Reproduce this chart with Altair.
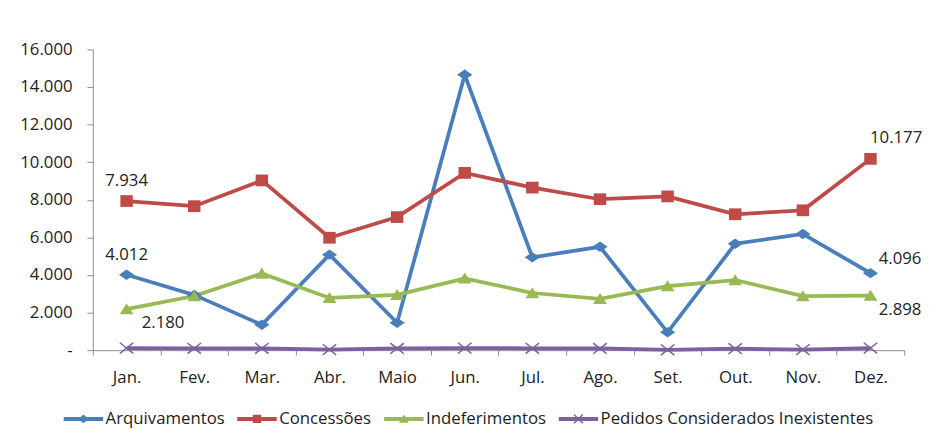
import altair as alt
import pandas as pd

months = ["Jan.", "Fev.", "Mar.", "Abr.", "Maio", "Jun.", "Jul.", "Ago.", "Set.", "Out.", "Nov.", "Dez."]
series_names = ["Arquivamentos", "Concessões", "Indeferimentos", "Pedidos Considerados Inexistentes"]
arquivamentos = [4012, 2940, 1350, 5080, 1460, 14650, 4940, 5500, 950, 5660, 6180, 4096]
concessoes = [7934, 7660, 9030, 5980, 7080, 9430, 8650, 8030, 8180, 7230, 7440, 10177]
indeferimentos = [2180, 2880, 4080, 2780, 2940, 3820, 3040, 2730, 3410, 3730, 2880, 2898]
pedidos = [110, 100, 100, 30, 90, 110, 100, 90, 20, 80, 30, 110]
colors = ["#4A7EBB", "#BE4B48", "#98B954", "#7D60A0"]

rows = []
for name, vals in zip(series_names, [arquivamentos, concessoes, indeferimentos, pedidos]):
    for m, v in zip(months, vals):
        rows.append({"mes": m, "serie": name, "valor": v})
df = pd.DataFrame(rows)

FONT = "Open Sans"
FS = 17
TXT = "#222222"

# marker shapes (unit box -1..1, a little wider than tall like the reference)
diamond = "M0,-0.75L1.1,0L0,0.75L-1.1,0Z"
square = "M-0.9,-0.85L0.9,-0.85L0.9,0.85L-0.9,0.85Z"
triangle = "M0,-0.85L1.0,0.75L-1.0,0.75Z"
cross = ("M-1.05,-0.7L-0.9,-0.85L0,-0.13L0.9,-0.85L1.05,-0.7L0.18,0L1.05,0.7L0.9,0.85L0,0.13"
         "L-0.9,0.85L-1.05,0.7L-0.18,0Z")
marker_paths = [diamond, square, triangle, cross]

# legend symbols: a short line with a (smaller) marker in its middle
bar = "M-4,-0.4L4,-0.4L4,0.4L-4,0.4Z "
leg_diamond = "M0,-0.9L1.0,0L0,0.9L-1.0,0Z"
leg_square = "M-0.85,-0.85L0.85,-0.85L0.85,0.85L-0.85,0.85Z"
leg_triangle = "M0,-0.9L1.0,0.75L-1.0,0.75Z"
leg_cross = ("M-1.0,-0.8L-0.8,-1.0L0,-0.2L0.8,-1.0L1.0,-0.8L0.2,0L1.0,0.8L0.8,1.0L0,0.2"
             "L-0.8,1.0L-1.0,0.8L-0.2,0Z")
legend_paths = [bar + p for p in [leg_diamond, leg_square, leg_triangle, leg_cross]]

x_enc = alt.X("mes:N", sort=months, title=None,
              scale=alt.Scale(paddingInner=0, paddingOuter=0),
              axis=alt.Axis(labelAngle=0, tickBand="extent", ticks=True, tickSize=5,
                            labelPadding=15, domainColor="#8C8C8C", tickColor="#8C8C8C",
                            labelColor=TXT, labelFontSize=FS, labelFont=FONT))
y_enc = alt.Y("valor:Q", title=None,
              scale=alt.Scale(domain=[0, 16000], nice=False),
              axis=alt.Axis(values=list(range(0, 16001, 2000)), grid=False, tickSize=6,
                            labelPadding=15, domainColor="#8C8C8C", tickColor="#8C8C8C",
                            labelColor=TXT, labelFontSize=FS, labelFont=FONT,
                            labelExpr="datum.value == 0 ? '-' : replace(format(datum.value, ','), ',', '.')"))
color_scale = alt.Scale(domain=series_names, range=colors)

base = alt.Chart(df)

lines = base.mark_line(strokeWidth=3.8).encode(
    x=x_enc, y=y_enc,
    color=alt.Color("serie:N", scale=color_scale, legend=None),
)

markers = base.mark_point(filled=True, opacity=1, size=196).encode(
    x=x_enc, y=y_enc,
    color=alt.Color("serie:N", scale=color_scale, legend=None),
    shape=alt.Shape("serie:N", scale=alt.Scale(domain=series_names, range=marker_paths), legend=None),
)

leg = dict(title=None, orient="none", direction="horizontal", legendX=-18, legendY=366,
           symbolSize=100, labelFontSize=FS, labelFont=FONT, labelColor=TXT,
           labelOffset=14, columnPadding=12, symbolStrokeWidth=0, symbolOpacity=1,
           labelLimit=500)

legend_layer = base.mark_point(filled=True, opacity=0, size=100).encode(
    x=x_enc, y=y_enc,
    color=alt.Color("serie:N", scale=alt.Scale(domain=series_names, range=colors),
                    legend=alt.Legend(**leg)),
    shape=alt.Shape("serie:N", scale=alt.Scale(domain=series_names, range=legend_paths),
                    legend=alt.Legend(**leg)),
)

label_specs = [
    ("Concessões", "Jan.", 0, -20),
    ("Arquivamentos", "Jan.", 0, -20),
    ("Indeferimentos", "Jan.", 37, 14),
    ("Concessões", "Dez.", 26, -21),
    ("Arquivamentos", "Dez.", 30, -14),
    ("Indeferimentos", "Dez.", 30, 15),
]
texts = []
for serie, mes, dx, dy in label_specs:
    t = base.transform_filter(
        (alt.datum.serie == serie) & (alt.datum.mes == mes)
    ).transform_calculate(
        lab="replace(format(datum.valor, ','), ',', '.')"
    ).mark_text(dx=dx, dy=dy, fontSize=FS, font=FONT, color=TXT).encode(
        x=x_enc, y=y_enc, text="lab:N"
    )
    texts.append(t)

chart = alt.layer(lines, markers, legend_layer, *texts).resolve_scale(
    shape="independent", color="independent"
).properties(
    width=823, height=305,
    padding={"left": 11, "top": 30, "right": 2, "bottom": 2},
    background="white",
).configure_view(stroke=None).configure_legend(padding=0)

chart.save("out.html", embed_options={"renderer": "svg", "actions": False})
